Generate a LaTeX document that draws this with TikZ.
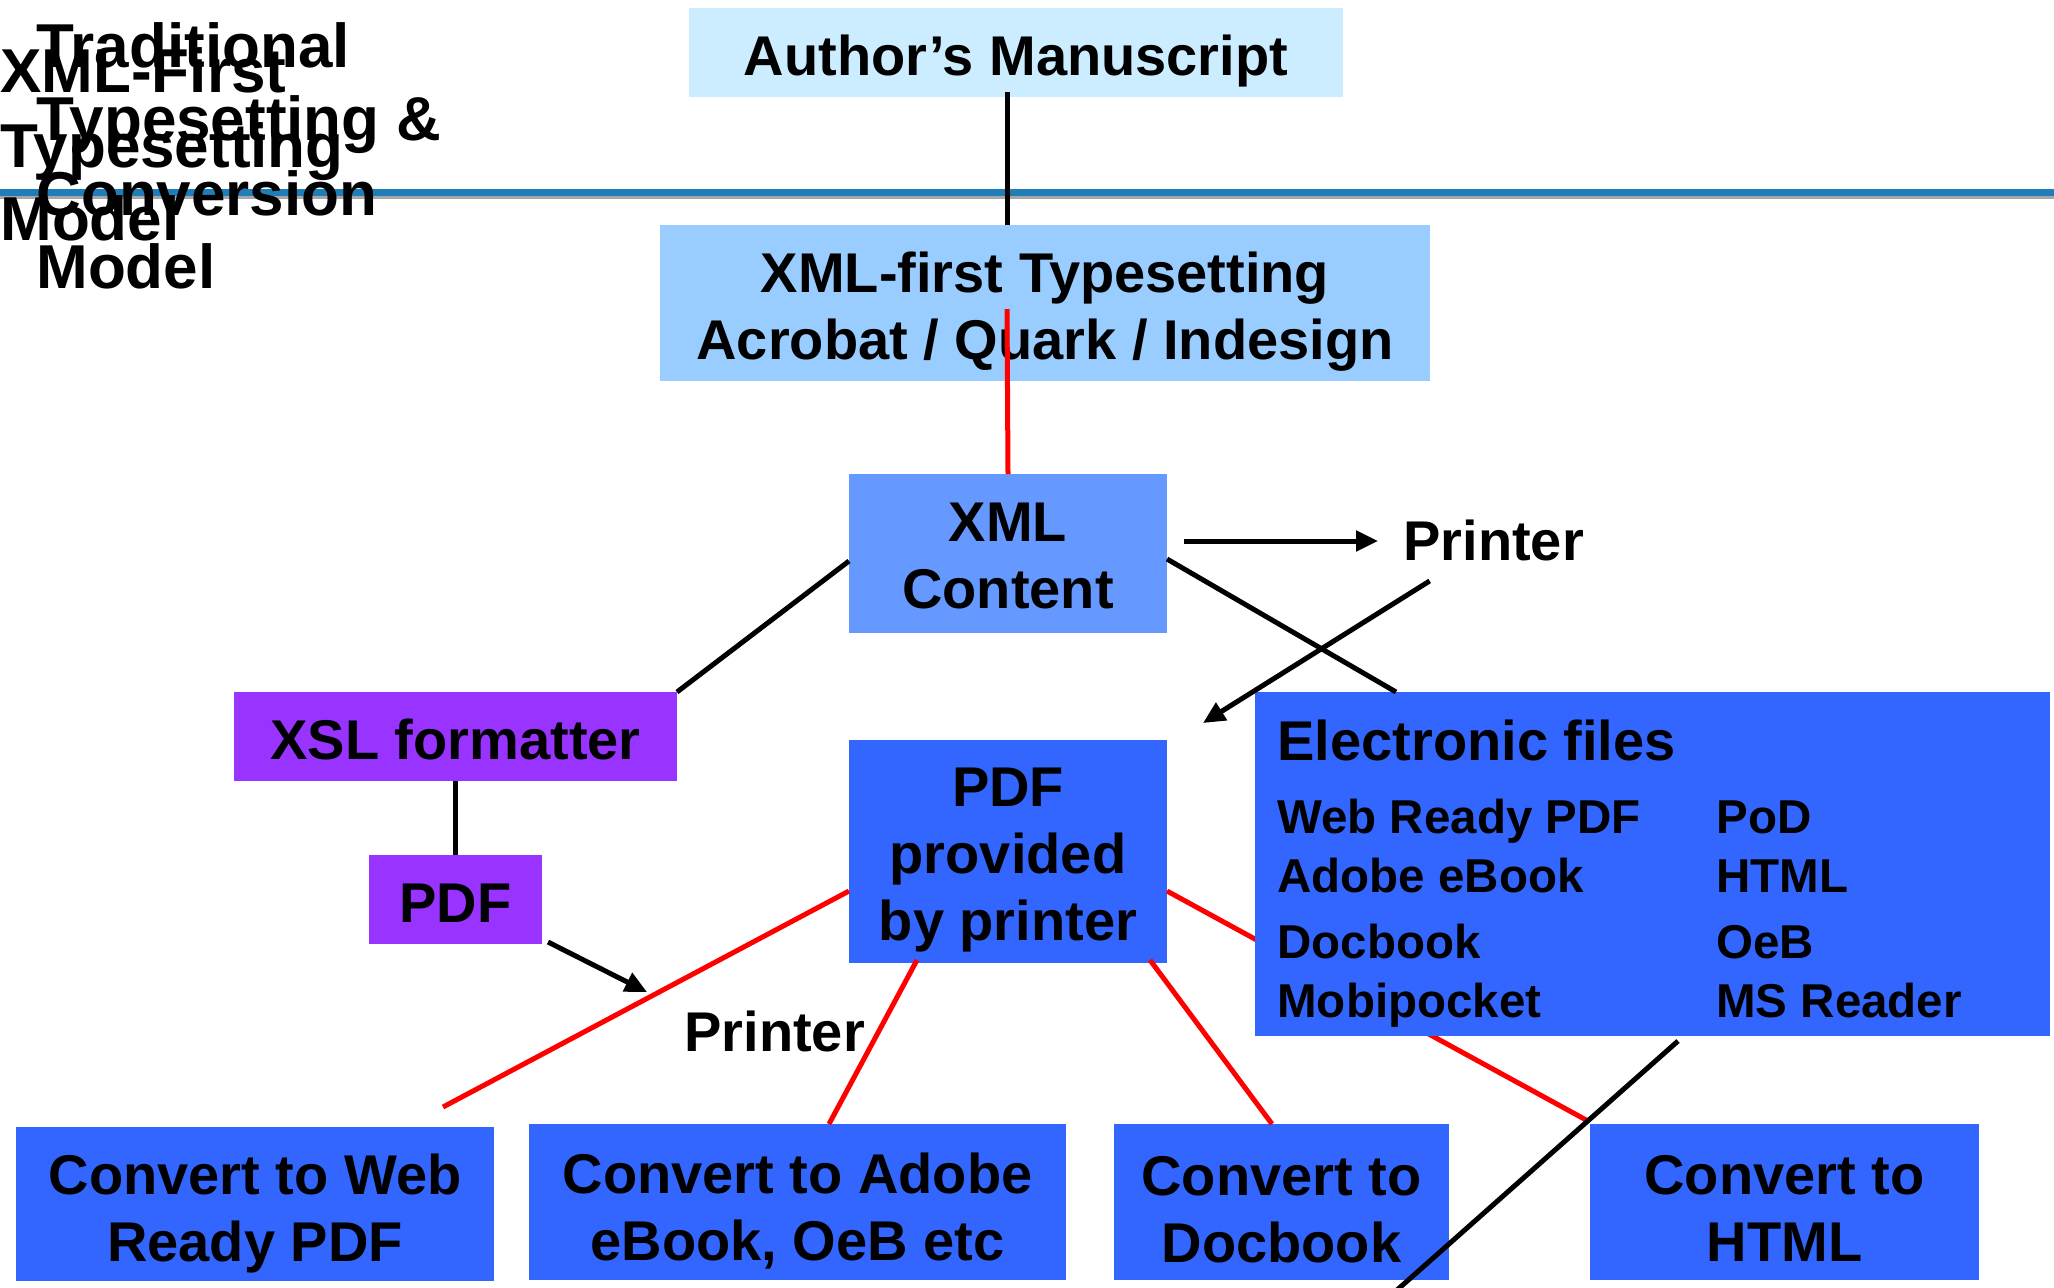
\documentclass[tikz,border=0pt]{standalone}
\usepackage{fontspec}
\setmainfont{Liberation Sans}
\usetikzlibrary{arrows.meta,calc}
\definecolor{cAuthor}{HTML}{CCECFF}
\definecolor{cFirst}{HTML}{99CCFF}
\definecolor{cXml}{HTML}{6699FF}
\definecolor{cBlue}{HTML}{3366FF}
\definecolor{cPurple}{HTML}{9933FF}
\definecolor{cRule}{HTML}{1F7DB8}
\definecolor{cShadow}{HTML}{A6A6A6}
\begin{document}
\begin{tikzpicture}[x=0.5pt,y=-0.5pt,
  boxshape/.style={inner sep=0pt, outer sep=0pt},
  boxtext/.style={inner sep=0pt, outer sep=0pt, align=center, font=\bfseries\fontsize{28pt}{33.5pt}\selectfont},
  titletext/.style={inner sep=0pt, anchor=base west, font=\bfseries\fontsize{31pt}{37pt}\selectfont},
  listtext/.style={inner sep=0pt, anchor=base west, font=\bfseries\fontsize{23.75pt}{28pt}\selectfont},
  labeltext/.style={inner sep=0pt, anchor=base west, font=\bfseries\fontsize{28pt}{33.5pt}\selectfont},
  blackline/.style={draw=black, line width=2.5pt},
  redline/.style={draw=red, line width=2.5pt},
  arrowline/.style={blackline, -{Triangle[length=11pt,width=10pt]}}]
\fill[white] (0,0) rectangle (2054,1287);
\useasboundingbox (0,0) rectangle (2054,1287);
% horizontal rule
\fill[cShadow] (0,196) rectangle (2054,199);
\fill[cRule] (0,189) rectangle (2054,196);
% titles
\node[titletext] (t1a) at (0,92) {XML-First};
\node[titletext] (t1b) at (0,167) {Typesetting};
\node[titletext] (t1c) at (0,240) {Model};
\node[titletext] (t2a) at (36,67) {Traditional};
\node[titletext] (t2b) at (36,140) {Typesetting \&};
\node[titletext] (t2c) at (36,215) {Conversion};
\node[titletext] (t2d) at (36,288) {Model};
% boxes
\node[boxshape, fill=cAuthor, minimum width=327pt, minimum height=44.5pt] (author) at (1016,52.5) {};
\node[boxtext] (authorT) at ([yshift=-4.5pt]author.center) {Author’s Manuscript};
\node[boxshape, fill=cFirst, minimum width=385pt, minimum height=78pt] (first) at (1045,303) {};
\node[boxtext] (firstT) at ([yshift=-4.5pt]first.center) {XML-first Typesetting\\Acrobat / Quark / Indesign};
\node[boxshape, fill=cXml, minimum width=159pt, minimum height=79.5pt] (xml) at (1008,553.5) {};
\node[boxtext] (xmlT) at ([yshift=-1pt]xml.center) {XML\\Content};
\node[boxshape, fill=cPurple, minimum width=221.5pt, minimum height=44.5pt] (xsl) at (455.5,736.5) {};
\node[boxtext] (xslT) at ([yshift=-1.3pt]xsl.center) {XSL formatter};
\node[boxshape, fill=cPurple, minimum width=86.5pt, minimum height=44.5pt] (pdf) at (455.5,899.5) {};
\node[boxtext] (pdfT) at ([yshift=-2pt]pdf.center) {PDF};
\node[boxshape, fill=cBlue, minimum width=159pt, minimum height=111.5pt] (pdfprov) at (1008,851.5) {};
\node[boxtext] (pdfprovT) at ([yshift=-4.5pt]pdfprov.center) {PDF\\provided\\by printer};
\node[boxshape, fill=cBlue, minimum width=239pt, minimum height=77pt] (web) at (255,1204) {};
\node[boxtext] (webT) at ([yshift=-4.5pt]web.center) {Convert to Web\\Ready PDF};
\node[boxshape, fill=cBlue, minimum width=268.5pt, minimum height=78pt] (adobe) at (797.5,1202) {};
\node[boxtext] (adobeT) at ([yshift=-4.5pt]adobe.center) {Convert to Adobe\\eBook, OeB etc};
\node[boxshape, fill=cBlue, minimum width=167.5pt, minimum height=78pt] (docbook) at (1281.5,1202) {};
\node[boxtext] (docbookT) at ([yshift=-4pt]docbook.center) {Convert to\\Docbook};
\node[boxshape, fill=cBlue, minimum width=194.5pt, minimum height=78pt] (html) at (1784.5,1202) {};
\node[boxtext] (htmlT) at ([yshift=-3.3pt]html.center) {Convert to\\HTML};
% red line hidden behind the electronic files box
\draw[redline] ([yshift=-19.75pt]pdfprov.east) -- ([xshift=-1pt,yshift=1.5pt]html.north west);
% electronic files box
\node[boxshape, fill=cBlue, minimum width=397.5pt, minimum height=172pt] (elec) at (1652.5,864) {};
\node[labeltext] (elecT) at (1277,760) {Electronic files};
\node[listtext] (e1) at (1277,833) {Web Ready PDF};
\node[listtext] (e2) at (1277,892) {Adobe eBook};
\node[listtext] (e3) at (1277,958) {Docbook};
\node[listtext] (e4) at (1277,1017) {Mobipocket};
\node[listtext] (e5) at (1716,833) {PoD};
\node[listtext] (e6) at (1716,892) {HTML};
\node[listtext] (e7) at (1716,958) {OeB};
\node[listtext] (e8) at (1716,1017) {MS Reader};
% labels
\node[labeltext] (printer1) at (1403,560) {Printer};
\node[labeltext] (printer2) at (684,1051) {Printer};
% connectors
\draw[blackline] ([xshift=-4.5pt,yshift=2.5pt]author.south) -- ([xshift=-19pt]first.north);
\draw[redline] ([xshift=-19pt,yshift=36pt]first.south) -- (xml.north);
\draw[blackline] ([yshift=-3.75pt]xml.west) -- (xsl.north east);
\draw[blackline] ([yshift=-2.75pt]xml.east) -- ([xshift=70.5pt]elec.north west);
\coordinate (xs) at ([xshift=8.5pt,yshift=6.25pt]xml.east);
\coordinate (xe) at ([xshift=-12.5pt]printer1.west);
\draw[arrowline] (xs) -- (xe |- xs);
\coordinate (pdfin) at (1203,723);
\draw[arrowline] ([xshift=-32pt,yshift=-10pt]printer1.south) -- (pdfin);
\draw[blackline] (xsl.south) -- (pdf.north);
\coordinate (pdfout) at (647,992);
\draw[arrowline] ([xshift=3pt,yshift=1pt]pdf.south east) -- (pdfout);
\draw[redline] ([yshift=-19.75pt]pdfprov.west) -- ([xshift=94pt,yshift=10pt]web.north);
\draw[redline] ([xshift=-45.5pt,yshift=1.5pt]pdfprov.south) -- ([xshift=15.75pt]adobe.north);
\draw[redline] ([xshift=71pt,yshift=1.5pt]pdfprov.south) -- ([xshift=-4.75pt]docbook.north);
\coordinate (offbottom) at (1397,1290);
\draw[blackline] ([xshift=12.75pt,yshift=-2.5pt]elec.south) -- (offbottom);
\end{tikzpicture}
\end{document}
